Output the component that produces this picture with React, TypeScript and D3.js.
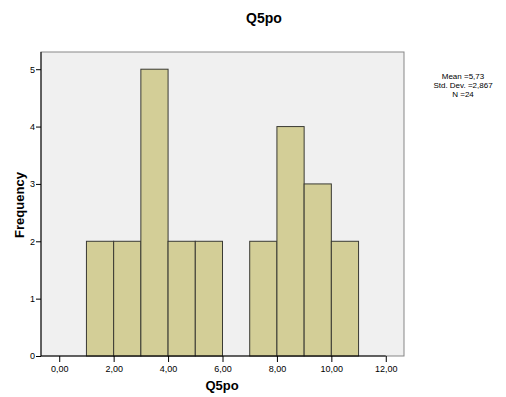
import React, { useEffect, useRef } from "react";
import { select, scaleLinear, axisBottom, axisLeft } from "d3";

const width = 506;
const height = 397;
const plot = { left: 41, right: 404, top: 52, bottom: 356 };

const binStarts = [1, 2, 3, 4, 5, 6, 7, 8, 9, 10];
const binWidth = 1;
const counts = [2, 2, 5, 2, 2, 0, 2, 4, 3, 2];
const xTicks = [0, 2, 4, 6, 8, 10, 12];
const yTicks = [0, 1, 2, 3, 4, 5];
const stats = ["Mean =5,73", "Std. Dev. =2,867", "N =24"];

const fmt = (v: number) => v.toFixed(2).replace(".", ",");

const App = () => {
  const ref = useRef<SVGSVGElement>(null);

  useEffect(() => {
    const svg = select(ref.current);
    svg.selectAll("*").remove();

    const x = scaleLinear().domain([-0.67, 12.67]).range([plot.left, plot.right]);
    const y = scaleLinear().domain([0, 5.3]).range([plot.bottom, plot.top]);
    const font = "Arial, 'Liberation Sans', sans-serif";

    // plot frame
    svg
      .append("rect")
      .attr("x", plot.left)
      .attr("y", plot.top)
      .attr("width", plot.right - plot.left)
      .attr("height", plot.bottom - plot.top)
      .attr("fill", "#f0f0f0")
      .attr("stroke", "#878787")
      .attr("stroke-width", 1);

    svg
      .append("g")
      .selectAll("rect")
      .data(binStarts.map((s, i) => ({ s, c: counts[i] })).filter((d) => d.c > 0))
      .join("rect")
      .attr("x", (d) => x(d.s))
      .attr("y", (d) => y(d.c))
      .attr("width", (d) => x(d.s + binWidth) - x(d.s))
      .attr("height", (d) => y(0) - y(d.c))
      .attr("fill", "#d3ce97")
      .attr("stroke", "#3a3a33")
      .attr("stroke-width", 1);

    const xAxis = (g: any) =>
      g
        .attr("transform", `translate(0,${plot.bottom})`)
        .call(axisBottom(x).tickValues(xTicks).tickFormat(fmt as any).tickSize(6).tickSizeOuter(0))
        .call((g: any) => g.select(".domain").attr("d", `M${plot.left},0H${x(12)}`))
        .call((g: any) =>
          g.selectAll("text").attr("font-size", 9).attr("font-family", font).attr("dy", "0.75em")
        );

    const yAxis = (g: any) =>
      g
        .attr("transform", `translate(${plot.left},0)`)
        .call(axisLeft(y).tickValues(yTicks).tickFormat((d: any) => String(d)).tickSize(5).tickSizeOuter(0))
        .call((g: any) => g.select(".domain").attr("d", `M0,${plot.bottom}V${plot.top}`))
        .call((g: any) =>
          g.selectAll("text").attr("font-size", 9).attr("font-family", font).attr("x", -6)
        );

    svg.append("g").call(xAxis);
    svg.append("g").call(yAxis);

    svg
      .append("text")
      .attr("x", 264)
      .attr("y", 23)
      .attr("text-anchor", "middle")
      .attr("font-family", font)
      .attr("font-weight", "bold")
      .attr("font-size", 14)
      .text("Q5po");

    svg
      .append("text")
      .attr("x", 222)
      .attr("y", 390)
      .attr("text-anchor", "middle")
      .attr("font-family", font)
      .attr("font-weight", "bold")
      .attr("font-size", 13)
      .text("Q5po");

    svg
      .append("text")
      .attr("transform", "translate(24,205) rotate(-90)")
      .attr("text-anchor", "middle")
      .attr("font-family", font)
      .attr("font-weight", "bold")
      .attr("font-size", 13)
      .text("Frequency");

    svg
      .append("g")
      .selectAll("text")
      .data(stats)
      .join("text")
      .attr("x", 463)
      .attr("y", (d, i) => 79 + i * 9)
      .attr("text-anchor", "middle")
      .attr("font-family", font)
      .attr("font-size", 8)
      .text((d) => d);
  }, []);

  return (
    <div style={{ position: "fixed", left: 0, top: 0, width, height, background: "#fff" }}>
      <svg ref={ref} width={width} height={height} style={{ display: "block" }} />
    </div>
  );
};

export default App;
